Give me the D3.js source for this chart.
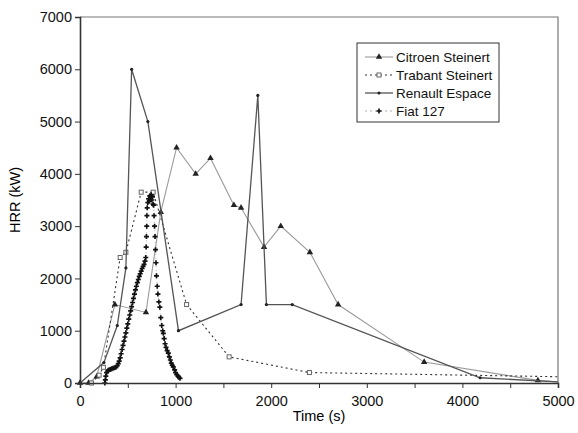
<!DOCTYPE html>
<html>
<head>
<meta charset="utf-8">
<script src="https://cdn.jsdelivr.net/npm/d3@7"></script>
<style>
  body { margin: 0; background: #fff; }
  text { font-family: "Liberation Sans", Arial, sans-serif; }
</style>
</head>
<body>
<svg id="chart" width="578" height="433"></svg>
<script>
// data: [time (s), HRR (kW)]
var citroen = [[0,0],[90,0],[175,120],[365,1500],[690,1350],[845,3270],[1010,4500],[1210,4000],
  [1365,4300],[1610,3400],[1685,3350],[1925,2600],[2100,3000],[2405,2500],[2700,1500],
  [3600,400],[4790,50],[5000,20]];
var trabant = [[120,0],[200,150],[245,300],[420,2400],[480,2500],[640,3650],[765,3650],
  [1115,1500],[1560,500],[2400,200],[5000,120]];
var renault = [[0,0],[250,390],[390,1100],[480,2200],[540,6000],[710,5000],[1030,1000],
  [1685,1500],[1860,5500],[1950,1500],[2220,1500],[4185,100],[5000,20]];
var fiat = [[260,0],[265,60],[270,130],[278,200],[290,230],[300,250],[315,260],[330,270],
  [345,280],[360,290],[375,300],[390,330],[400,370],[410,420],[420,480],[430,560],[440,640],
  [450,720],[460,800],[470,880],[480,960],[490,1050],[500,1130],[510,1220],[520,1300],
  [530,1380],[540,1460],[550,1540],[560,1620],[570,1700],[580,1780],[590,1850],[600,1920],
  [610,1980],[620,2040],[630,2090],[640,2140],[650,2190],[660,2230],[670,2270],[680,2330],
  [688,2400],[692,2600],[695,2800],[698,3000],[700,3200],[703,3350],[710,3450],[718,3520],
  [725,3480],[730,3580],[738,3550],[745,3600],[752,3500],[758,3560],[765,3420],[770,3400],
  [775,3200],[780,3000],[785,2800],[790,2550],[795,2300],[800,2050],[808,1850],[815,1700],
  [825,1550],[835,1450],[845,1250],[855,1100],[865,1000],[872,950],[880,850],[890,750],
  [900,680],[912,620],[924,570],[935,500],[945,440],[955,380],[965,340],[976,310],[990,250],
  [1000,200],[1012,160],[1025,130],[1035,110],[1046,90]];

var xTicks = [0, 1000, 2000, 3000, 4000, 5000];
var xMinor = [500, 1500, 2500, 3500, 4500];
var yTicks = [0, 1000, 2000, 3000, 4000, 5000, 6000, 7000];

var seriesNames = ["Citroen Steinert", "Trabant Steinert", "Renault Espace", "Fiat 127"];

var svg = d3.select("#chart");
var mLeft = 80, mRight = 558, mTop = 17, mBottom = 383;

var x = d3.scaleLinear().domain([0, 5000]).range([mLeft, mRight]);
var y = d3.scaleLinear().domain([0, 7000]).range([mBottom, mTop]);

// frame top / right
svg.append("path")
  .attr("d", "M" + mLeft + "," + mTop + "H" + mRight + "V" + mBottom)
  .attr("fill", "none")
  .attr("stroke", "#777")
  .attr("stroke-width", 1.2);

var line = d3.line().x(function(d){ return x(d[0]); }).y(function(d){ return y(d[1]); });

var styles = {
  "Citroen Steinert": { data: citroen, stroke: "#9a9a9a", width: 1.1, dash: null },
  "Trabant Steinert": { data: trabant, stroke: "#333", width: 1.1, dash: "2,3" },
  "Renault Espace":   { data: renault, stroke: "#555", width: 1.3, dash: null },
  "Fiat 127":         { data: fiat,    stroke: "#999", width: 0.8, dash: "1,3" }
};

function drawMarker(g, name, cx, cy) {
  if (name == "Citroen Steinert") {
    g.append("path").attr("d", d3.symbol().type(d3.symbolTriangle).size(18)())
      .attr("transform", "translate(" + cx + "," + cy + ")").attr("fill", "#222");
  } else if (name == "Trabant Steinert") {
    g.append("rect").attr("x", cx - 2).attr("y", cy - 2).attr("width", 4).attr("height", 4)
      .attr("fill", "#fff").attr("stroke", "#666").attr("stroke-width", 1);
  } else if (name == "Renault Espace") {
    g.append("circle").attr("cx", cx).attr("cy", cy).attr("r", 1.6).attr("fill", "#222");
  } else {
    g.append("path").attr("d", d3.symbol().type(d3.symbolCross).size(14)())
      .attr("transform", "translate(" + cx + "," + cy + ")").attr("fill", "#111");
  }
}

seriesNames.forEach(function(name) {
  var s = styles[name];
  var g = svg.append("g").attr("class", "series");
  g.append("path")
    .datum(s.data)
    .attr("d", line)
    .attr("fill", "none")
    .attr("stroke", s.stroke)
    .attr("stroke-width", s.width)
    .attr("stroke-dasharray", s.dash);
  s.data.forEach(function(d) {
    if (d[0] == 5000) return;
    drawMarker(g, name, x(d[0]), y(d[1]));
  });
});

// axes
var xAxis = svg.append("g")
  .attr("transform", "translate(0," + mBottom + ")")
  .call(d3.axisBottom(x).tickValues(xTicks).tickSize(5).tickFormat(d3.format("d")));
svg.append("g")
  .attr("transform", "translate(0," + mBottom + ")")
  .call(d3.axisBottom(x).tickValues(xMinor).tickSize(5).tickFormat(""))
  .select(".domain").remove();
var yAxis = svg.append("g")
  .attr("transform", "translate(" + mLeft + ",0)")
  .call(d3.axisLeft(y).tickValues(yTicks).tickSize(5).tickFormat(d3.format("d")));

svg.selectAll(".domain").attr("stroke", "#333").attr("stroke-width", 1.6);
svg.selectAll(".tick line").attr("stroke", "#333");
svg.selectAll(".tick text").attr("fill", "#111").style("font-size", "14.5px")
  .style("font-family", "'Liberation Sans', Arial, sans-serif");
xAxis.selectAll(".tick text").attr("dy", "1.05em");
yAxis.selectAll(".tick text").attr("x", -8);

svg.append("text")
  .attr("x", (mLeft + mRight) / 2)
  .attr("y", 421)
  .attr("text-anchor", "middle")
  .style("font-size", "14.5px")
  .text("Time (s)");

svg.append("text")
  .attr("transform", "rotate(-90)")
  .attr("x", -200)
  .attr("y", 20)
  .attr("text-anchor", "middle")
  .style("font-size", "14.5px")
  .text("HRR (kW)");

// legend
var legend = svg.append("g").attr("transform", "translate(357,43)");
legend.append("rect").attr("width", 142).attr("height", 79)
  .attr("fill", "#fff").attr("stroke", "#333").attr("stroke-width", 1);
seriesNames.forEach(function(name, i) {
  var s = styles[name];
  var ly = 14 + i * 18;
  legend.append("line")
    .attr("x1", 8).attr("x2", 36).attr("y1", ly).attr("y2", ly)
    .attr("stroke", s.stroke).attr("stroke-width", s.width)
    .attr("stroke-dasharray", name == "Fiat 127" ? "2,3" : s.dash);
  drawMarker(legend, name, 22, ly);
  legend.append("text")
    .attr("x", 39).attr("y", ly + 5)
    .style("font-size", "13.5px")
    .attr("fill", "#111")
    .text(name);
});
</script>
</body>
</html>
